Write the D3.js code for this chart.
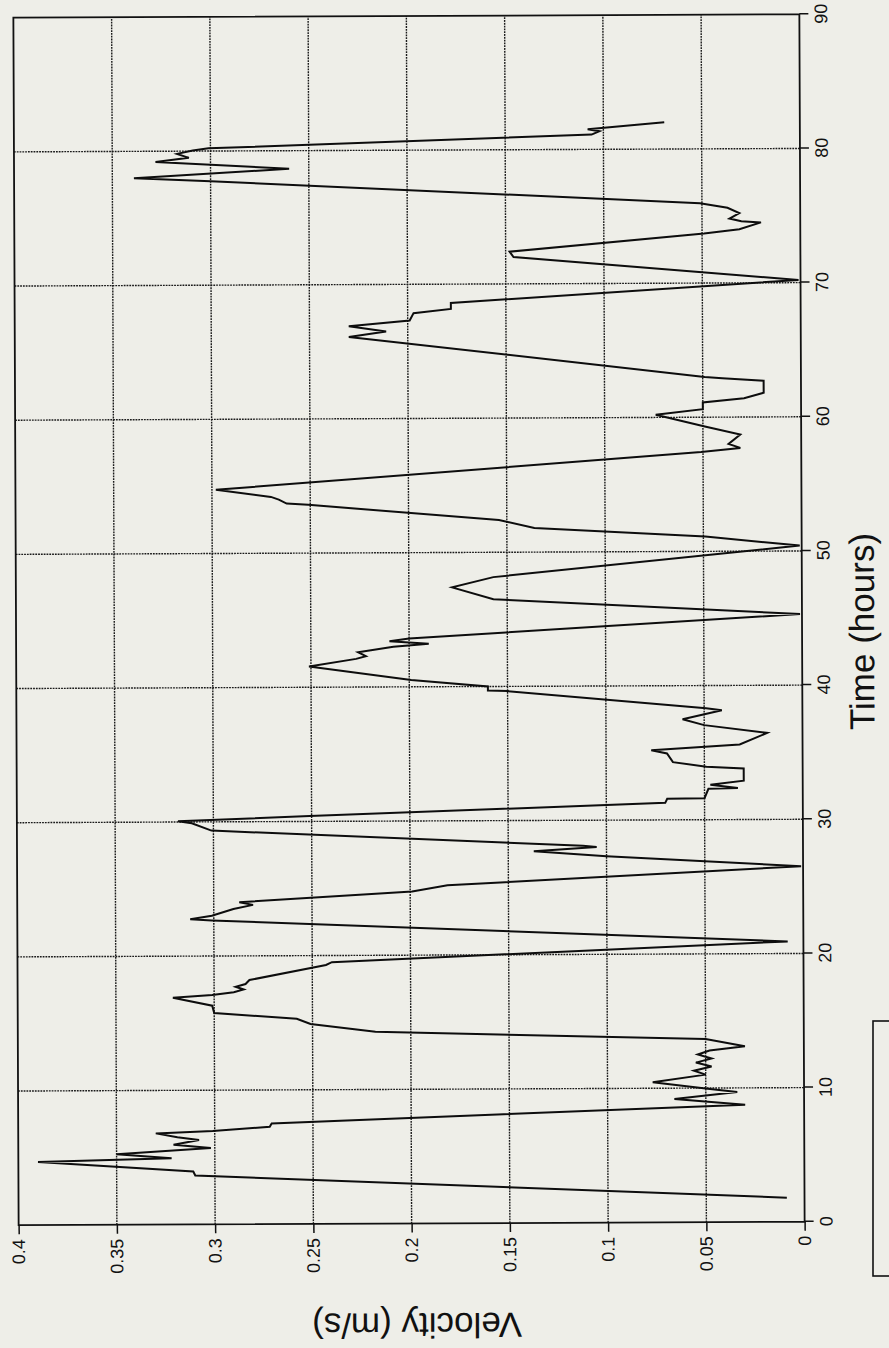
<!DOCTYPE html>
<html>
<head>
<meta charset="utf-8">
<script src="https://cdn.jsdelivr.net/npm/d3@7"></script>
<style>
  html, body { margin: 0; padding: 0; background: #eeeee8; }
  svg { display: block; }
  text { font-family: "Liberation Sans", Arial, sans-serif; fill: #111; }
</style>
</head>
<body>
<svg id="chart" width="889" height="1348"></svg>
<script>
// ---- data (time in hours, velocity in m/s) ----
const timeHours = [
  1.8, 3.65, 3.95, 4.7, 4.95, 5.25, 5.7, 5.95, 6.3, 6.5, 6.8, 6.95, 7.25, 7.5,
  8.75, 9.2, 9.7, 9.95, 10.45, 11.0, 11.3, 11.6, 11.9, 12.2, 12.5, 12.8, 13.1, 13.65,
  14.3, 14.9, 15.3, 15.75, 16.3, 16.9, 17.1, 17.3, 17.5, 17.7, 17.9, 18.2, 19.3, 19.5,
  20.9, 22.65, 22.75, 23.0, 23.5, 23.8, 24.0, 24.75, 25.2, 26.5, 27.3, 27.7, 28.0, 28.1,
  29.35, 29.9, 30.05, 30.4, 31.27, 31.57, 31.6, 32.3, 32.35, 32.6, 32.9, 33.8, 33.95, 34.3,
  34.95, 35.2, 35.6, 36.45, 37.05, 37.5, 38.15, 38.3, 39.65, 39.7, 40.0, 40.5, 41.55, 42.1,
  42.3, 42.6, 43.0, 43.2, 43.4, 43.6, 45.3, 46.5, 47.4, 48.15, 50.4, 51.1, 51.8, 52.4,
  53.6, 53.7, 54.0, 54.2, 54.75, 57.4, 57.7, 58.0, 58.7, 59.3, 60.2, 60.6, 61.1, 61.4,
  61.8, 62.7, 62.9, 63.0, 66.1, 66.5, 66.9, 67.3, 67.85, 68.15, 68.6, 70.2, 72.0, 72.4,
  73.7, 74.0, 74.5, 74.6, 74.8, 75.2, 75.6, 75.95, 77.75, 78.0, 78.65, 79.2, 79.5, 79.8,
  80.05, 80.2, 81.1, 81.35, 81.5, 82.0
];
const velocity = [
  0.009, 0.310, 0.311, 0.390, 0.322, 0.350, 0.302, 0.321, 0.308, 0.319, 0.330, 0.301, 0.272, 0.271,
  0.030, 0.066, 0.034, 0.049, 0.077, 0.050, 0.056, 0.047, 0.055, 0.047, 0.054, 0.048, 0.030, 0.050,
  0.218, 0.251, 0.258, 0.300, 0.301, 0.321, 0.301, 0.290, 0.285, 0.289, 0.284, 0.282, 0.243, 0.240,
  0.008, 0.301, 0.312, 0.301, 0.290, 0.280, 0.287, 0.199, 0.181, 0.001, 0.100, 0.137, 0.105, 0.112,
  0.301, 0.311, 0.318, 0.251, 0.070, 0.069, 0.050, 0.048, 0.033, 0.047, 0.030, 0.030, 0.049, 0.066,
  0.069, 0.077, 0.032, 0.018, 0.050, 0.061, 0.041, 0.049, 0.150, 0.160, 0.160, 0.199, 0.251, 0.227,
  0.222, 0.226, 0.208, 0.190, 0.210, 0.200, 0.001, 0.157, 0.178, 0.157, 0.001, 0.049, 0.136, 0.154,
  0.251, 0.262, 0.266, 0.270, 0.298, 0.051, 0.031, 0.037, 0.031, 0.049, 0.074, 0.050, 0.050, 0.029,
  0.019, 0.019, 0.040, 0.049, 0.230, 0.211, 0.230, 0.199, 0.197, 0.178, 0.178, 0.001, 0.146, 0.148,
  0.049, 0.031, 0.020, 0.030, 0.036, 0.031, 0.037, 0.051, 0.300, 0.339, 0.260, 0.328, 0.311, 0.317,
  0.309, 0.301, 0.106, 0.102, 0.108, 0.069
];
const timeTicks = [0, 10, 20, 30, 40, 50, 60, 70, 80, 90];
const timeTickLabels = ["0", "10", "20", "30", "40", "50", "60", "70", "80", "90"];
const velocityTicks = [0, 0.05, 0.1, 0.15, 0.2, 0.25, 0.3, 0.35, 0.4];
const velocityTickLabels = ["0", "0.05", "0.1", "0.15", "0.2", "0.25", "0.3", "0.35", "0.4"];
const xTitle = "Time (hours)";
const yTitle = "Velocity (m/s)";

// ---- layout (chart drawn unrotated, then turned 90° counter-clockwise like the scanned page) ----
const W = 1207.5;   // time axis length
const H = 786;      // velocity axis length
const originX = 16, originY = 1223.5;

const svg = d3.select("#chart");
const page = svg.append("g").attr("transform", "rotate(-0.25, 409, 620)");
const g = page.append("g").attr("transform", `translate(${originX},${originY}) rotate(-90)`);

const x = d3.scaleLinear().domain([0, 90]).range([0, W]);
const y = d3.scaleLinear().domain([0, 0.4]).range([H, 0]);

// grid
g.append("g").selectAll("line").data(timeTicks.slice(1, -1)).join("line")
  .attr("x1", d => x(d)).attr("x2", d => x(d)).attr("y1", 0).attr("y2", H)
  .attr("stroke", "#1a1a1a").attr("stroke-width", 1.4).attr("stroke-dasharray", "1.8,1");
g.append("g").selectAll("line").data(velocityTicks.slice(1, -1)).join("line")
  .attr("y1", d => y(d)).attr("y2", d => y(d)).attr("x1", 0).attr("x2", W)
  .attr("stroke", "#1a1a1a").attr("stroke-width", 1.4).attr("stroke-dasharray", "1.8,1");

// axes
const xAxis = d3.axisBottom(x).tickValues(timeTicks)
  .tickFormat((d, i) => timeTickLabels[i]).tickSize(9).tickPadding(6);
const yAxis = d3.axisLeft(y).tickValues(velocityTicks)
  .tickFormat((d, i) => velocityTickLabels[i]).tickSize(9).tickPadding(5);

const gx = g.append("g").attr("transform", `translate(0,${H})`).call(xAxis);
const gy = g.append("g").call(yAxis);
[gx, gy].forEach(a => {
  a.select(".domain").remove();
  a.selectAll(".tick line").attr("stroke", "#111").attr("stroke-width", 1.5);
  a.selectAll(".tick text").attr("font-size", 18).attr("fill", "#111")
    .attr("font-family", "Liberation Sans, Arial, sans-serif");
});

// frame
g.append("rect").attr("x", 0).attr("y", 0).attr("width", W).attr("height", H)
  .attr("fill", "none").attr("stroke", "#111").attr("stroke-width", 1.8);

// data line
const line = d3.line().x((d, i) => x(timeHours[i])).y((d, i) => y(velocity[i]));
g.append("path").datum(velocity).attr("d", line)
  .attr("fill", "none").attr("stroke", "#0d0d0d").attr("stroke-width", 2)
  .attr("stroke-linejoin", "miter").attr("stroke-miterlimit", 4);

// titles
g.append("text").attr("x", 590).attr("y", H + 72)
  .attr("text-anchor", "middle").attr("font-size", 35).text(xTitle);
g.append("text").attr("transform", `translate(-99,${y(0.2) + 5}) rotate(-90)`)
  .attr("text-anchor", "middle").attr("dominant-baseline", "middle")
  .attr("font-size", 35).text(yTitle);

// empty legend box at the page edge
svg.append("rect").attr("x", 873).attr("y", 1021).attr("width", 40).attr("height", 255)
  .attr("fill", "none").attr("stroke", "#111").attr("stroke-width", 1.6);
</script>
</body>
</html>
